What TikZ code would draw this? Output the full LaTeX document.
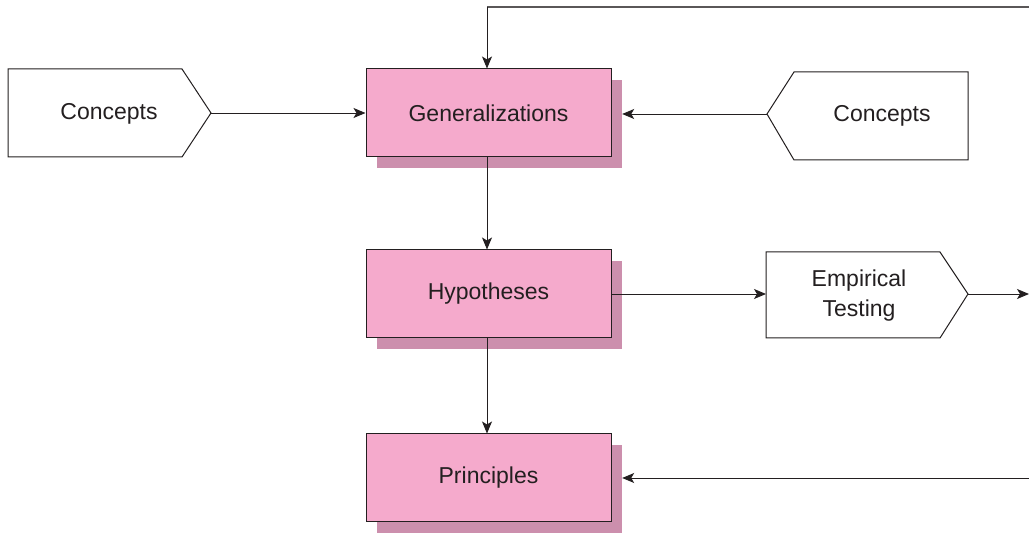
\documentclass[tikz,border=0pt]{standalone}
\usepackage{fontspec}
\setmainfont{Liberation Sans}
\usetikzlibrary{arrows.meta}
\definecolor{boxpink}{HTML}{F5AACC}
\definecolor{shadowpink}{HTML}{CC8FAD}
\definecolor{ink}{HTML}{231F20}
\begin{document}
\begin{tikzpicture}[x=1pt,y=-1pt,
  font=\fontsize{23}{30}\selectfont,
  pinkbox/.style={rectangle, draw=ink, line width=1pt, fill=boxpink,
    minimum width=245pt, minimum height=88pt, inner sep=0pt, text=ink},
  boxshadow/.style={rectangle, fill=shadowpink, draw=none,
    minimum width=245pt, minimum height=88pt, inner sep=0pt},
  tag/.style={draw=ink, line width=1pt, fill=white, line join=miter},
  label/.style={text=ink, align=center, inner sep=0pt},
  conn/.style={draw=ink, line width=0.9pt, -{Stealth[length=12pt,width=10pt,inset=3pt]}},
  plain/.style={draw=ink!75, line width=1.2pt}]
\useasboundingbox (0,0) rectangle (1029,534);

% drop shadows of the main boxes
\node[boxshadow] (genS)  at (499.5,124) {};
\node[boxshadow] (hypS)  at (499.5,305) {};
\node[boxshadow] (prinS) at (499.5,489) {};

% main boxes
\node[pinkbox] (gen)  at (488.5,113) {Generalizations};
\node[pinkbox] (hyp)  at (488.5,294) {Hypotheses};
\node[pinkbox] (prin) at (488.5,478) {Principles};

% left Concepts tag, pointing right
\draw[tag] (8,69) -- (182,69) -- (211,113) -- (182,157) -- (8,157) -- cycle;
\coordinate (conLtip) at (211,113);
\node[label] (conL) at (109,114) {Concepts};

% right Concepts tag, pointing left
\draw[tag] (968,72) -- (794,72) -- (767,114) -- (794,160) -- (968,160) -- cycle;
\coordinate (conRtip) at (767,114);
\node[label] (conR) at (882,116) {Concepts};

% Empirical Testing tag, pointing right
\draw[tag] (766,252) -- (940,252) -- (968,294) -- (940,338) -- (766,338) -- cycle;
\coordinate (empIn)  at (766,294);
\coordinate (empTip) at (968,294);
\node[label] (emp) at (859,296) {Empirical\\Testing};

% free ends at the right margin
\coordinate (topR)   at (1029,7);
\coordinate (topL)   at (487,7);
\coordinate (empOut) at (1029,294);
\coordinate (prinR)  at (1029,478);

% connectors
\draw[conn] (conLtip) -- (gen.west);
\draw[conn] (conRtip) -- (conRtip -| genS.east);
\draw[plain] (topR) -- (topL);
\draw[conn] (topL) -- (topL |- gen.north);
\draw[conn] (gen.south -| topL) -- (topL |- hyp.north);
\draw[conn] (hyp.east) -- (empIn);
\draw[conn] (empTip) -- (empOut);
\draw[conn] (hyp.south -| topL) -- (topL |- prin.north);
\draw[conn] (prinR) -- (prinR -| prinS.east);
\end{tikzpicture}
\end{document}
